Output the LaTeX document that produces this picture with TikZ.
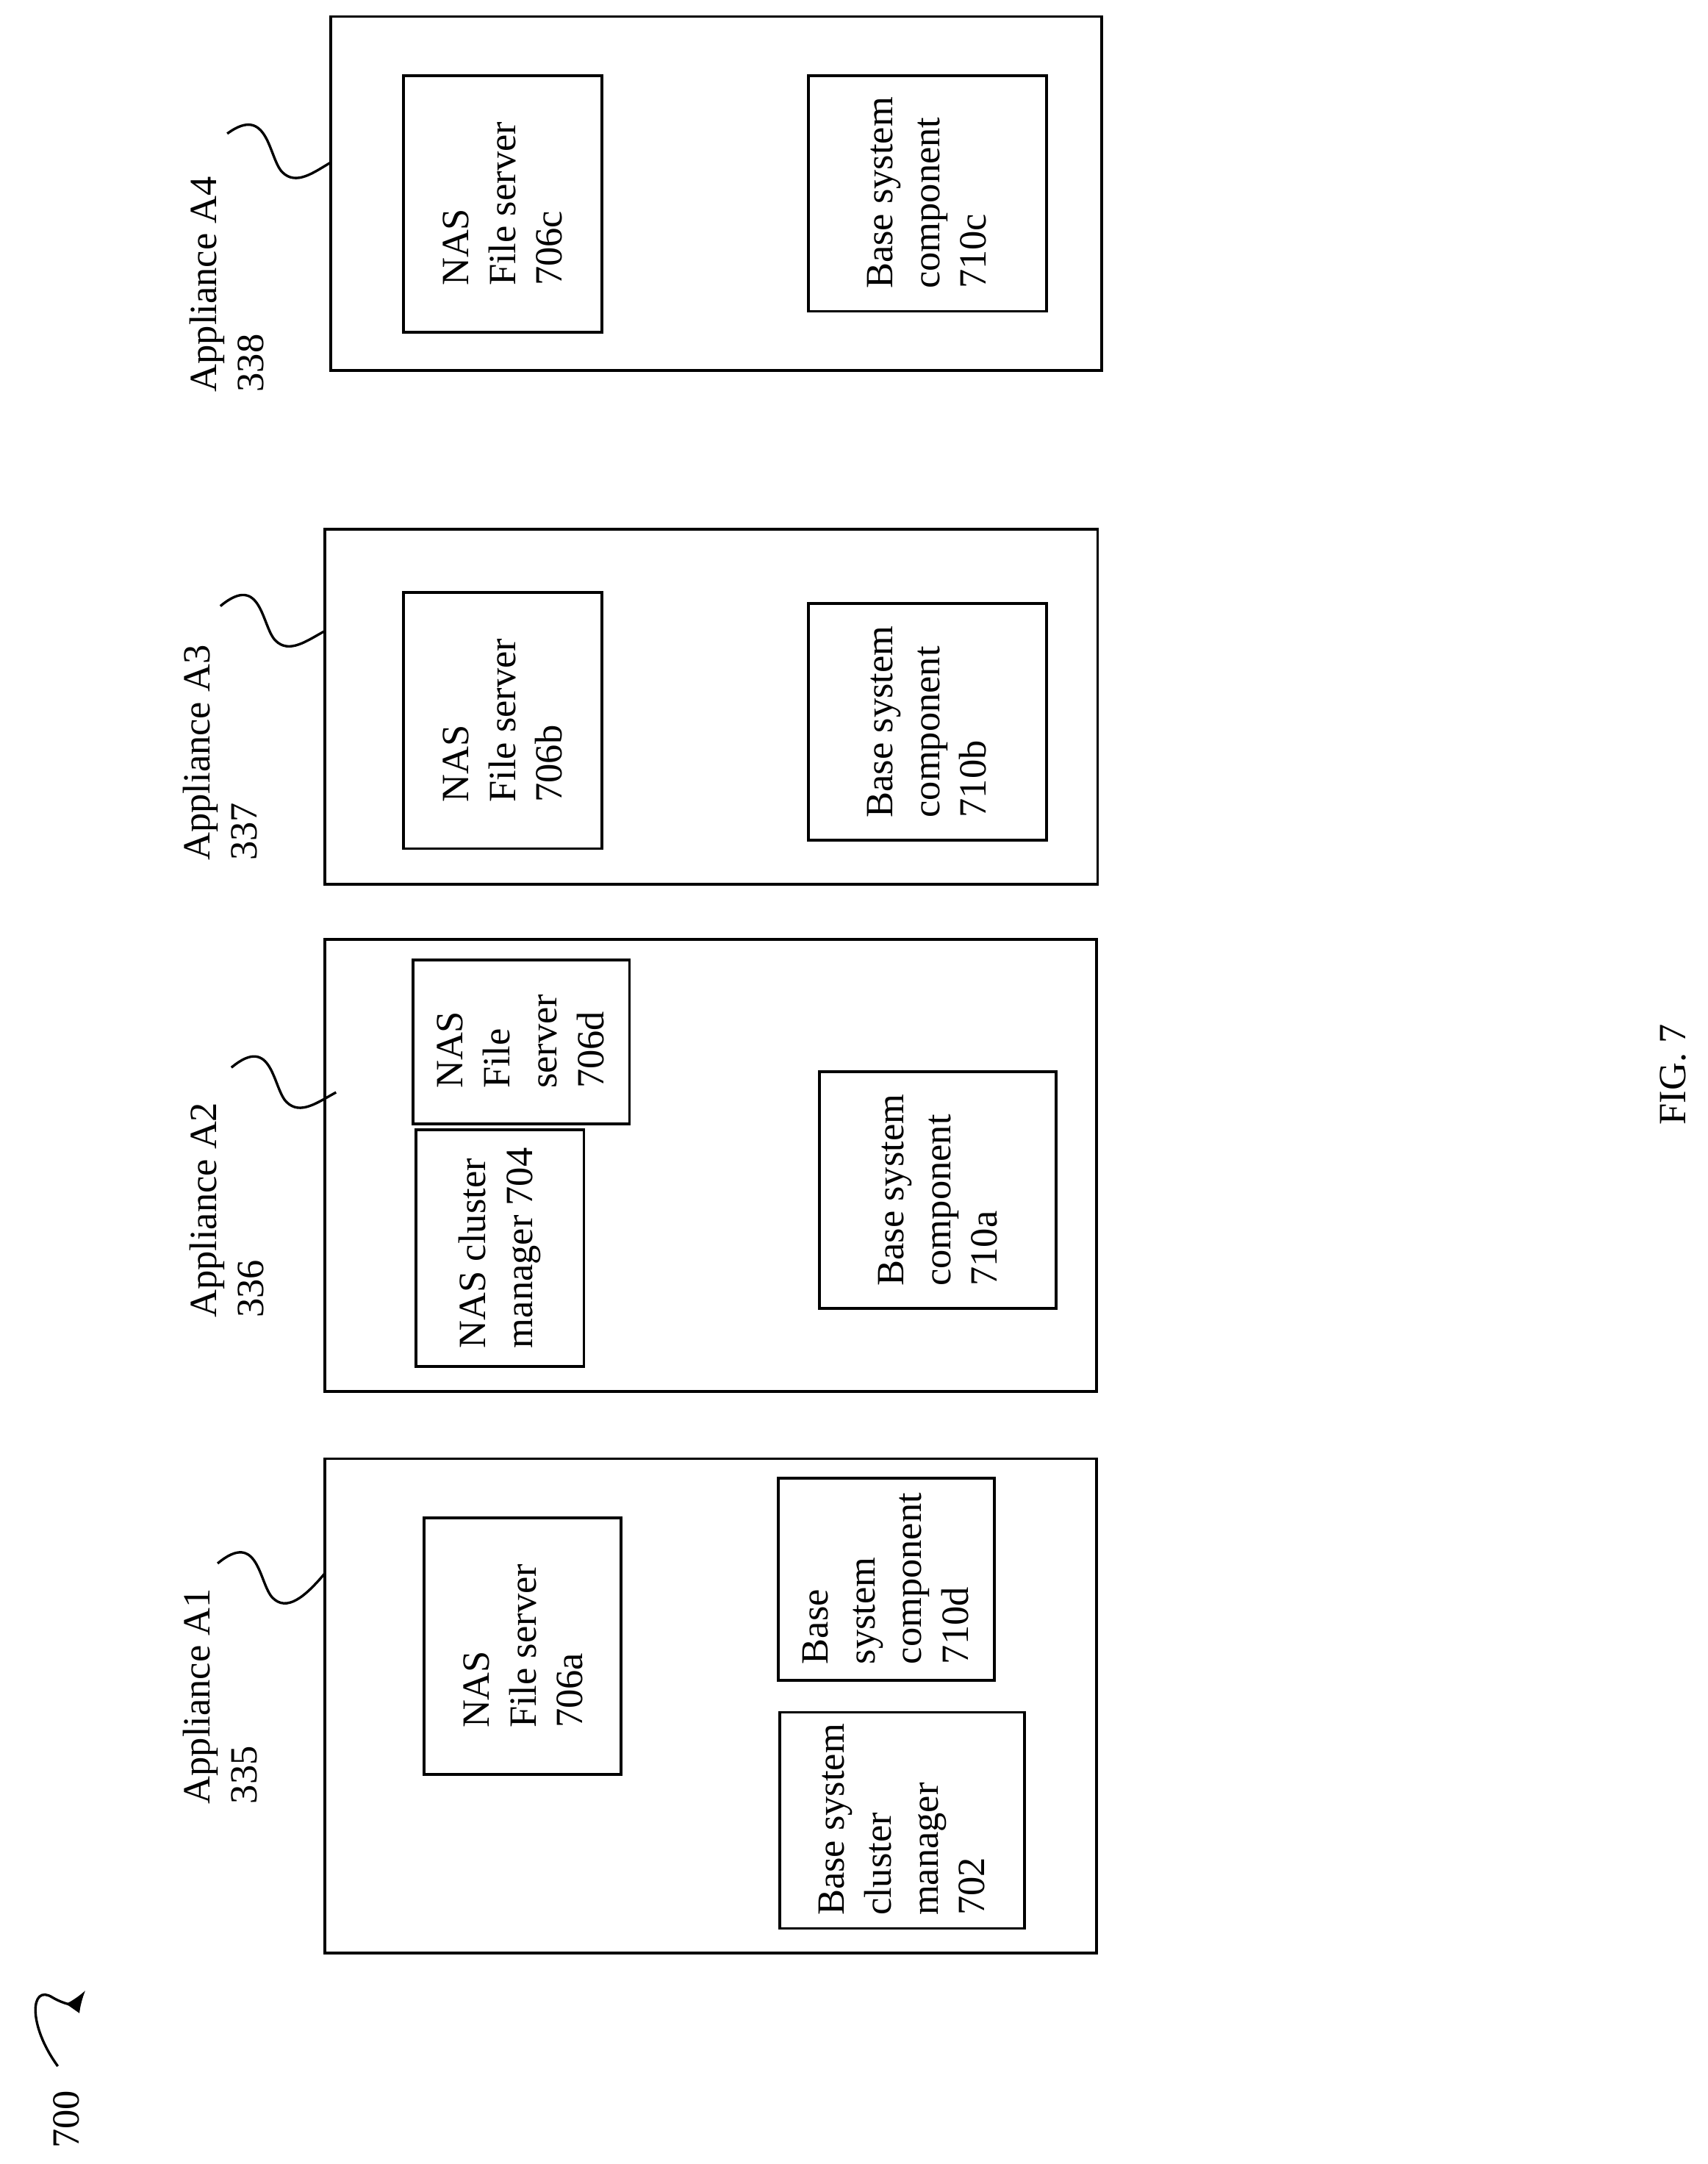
\documentclass[tikz,border=0pt]{standalone}
\usepackage{fontspec}
\usetikzlibrary{arrows.meta}
\setmainfont{Liberation Serif}
\begin{document}
\begin{tikzpicture}[x=0.5pt,y=-0.5pt,
  box/.style={draw,line width=1pt},
  txt/.style={rotate=90,align=left,font=\fontsize{14}{17}\selectfont,inner sep=0pt},
  sq/.style={line width=0.9pt}]
\useasboundingbox (0,0) rectangle (1240,1571);
% A4
\draw[box] (240,12) rectangle (800,269);
\draw[box] (293,55) rectangle (437,241);
\node[txt] (t706c) at (365,148) {NAS\\File server\\706c};
\draw[box] (587,55) rectangle (760,226);
\node[txt] (t710c) at (673,140) {Base system\\component\\710c};
\node[txt,anchor=south west] (lA4) at (192,285) {Appliance A4\\338};
\draw[sq] (165,97) .. controls (195,75) and (195,115) .. (205,125) .. controls (215,135) and (228,125) .. (240,118);
% A3
\draw[box] (236,384) rectangle (797,642);
\draw[box] (293,430) rectangle (437,616);
\node[txt] (t706b) at (365,523) {NAS\\File server\\706b};
\draw[box] (587,438) rectangle (760,610);
\node[txt] (t710b) at (673,524) {Base system\\component\\710b};
\node[txt,anchor=south west] (lA3) at (187,625) {Appliance A3\\337};
\draw[sq] (160,440) .. controls (190,415) and (190,455) .. (200,465) .. controls (210,475) and (223,465) .. (236,458);
% A2
\draw[box] (236,682) rectangle (796,1010);
\draw[box] (300,697) rectangle (457,816);
\node[txt] (t706d) at (378,756) {NAS\\File\\server\\706d};
\draw[box] (302,820) rectangle (424,992);
\node[txt] (t704) at (363,906) {NAS cluster\\manager 704};
\draw[box] (595,778) rectangle (767,950);
\node[txt] (t710a) at (681,864) {Base system\\component\\710a};
\node[txt,anchor=south west] (lA2) at (192,957) {Appliance A2\\336};
\draw[sq] (168,775) .. controls (198,750) and (198,790) .. (208,800) .. controls (218,810) and (231,800) .. (244,793);
% A1
\draw[box] (236,1059) rectangle (796,1418);
\draw[box] (308,1102) rectangle (451,1288);
\node[txt] (t706a) at (380,1195) {NAS\\File server\\706a};
\draw[box] (565,1073) rectangle (722,1220);
\node[txt] (t710d) at (643,1146) {Base\\system\\component\\710d};
\draw[box] (566,1243) rectangle (744,1400);
\node[txt] (t702) at (655,1321) {Base system\\cluster\\manager\\702};
\node[txt,anchor=south west] (lA1) at (187,1310) {Appliance A1\\335};
\draw[sq] (158,1135) .. controls (188,1110) and (188,1150) .. (198,1160) .. controls (208,1170) and (221,1160) .. (236,1142);
% 700
\node[txt,anchor=south west] (l700) at (58,1560) {700};
\coordinate (a700) at (62,1445);
\draw[sq,-{Latex[length=8pt]}] (42,1500) .. controls (20,1470) and (22,1440) .. (38,1450) .. controls (48,1456) and (55,1455) .. (a700);
\node[txt] (fig) at (1215,780) {FIG. 7};
\end{tikzpicture}
\end{document}
